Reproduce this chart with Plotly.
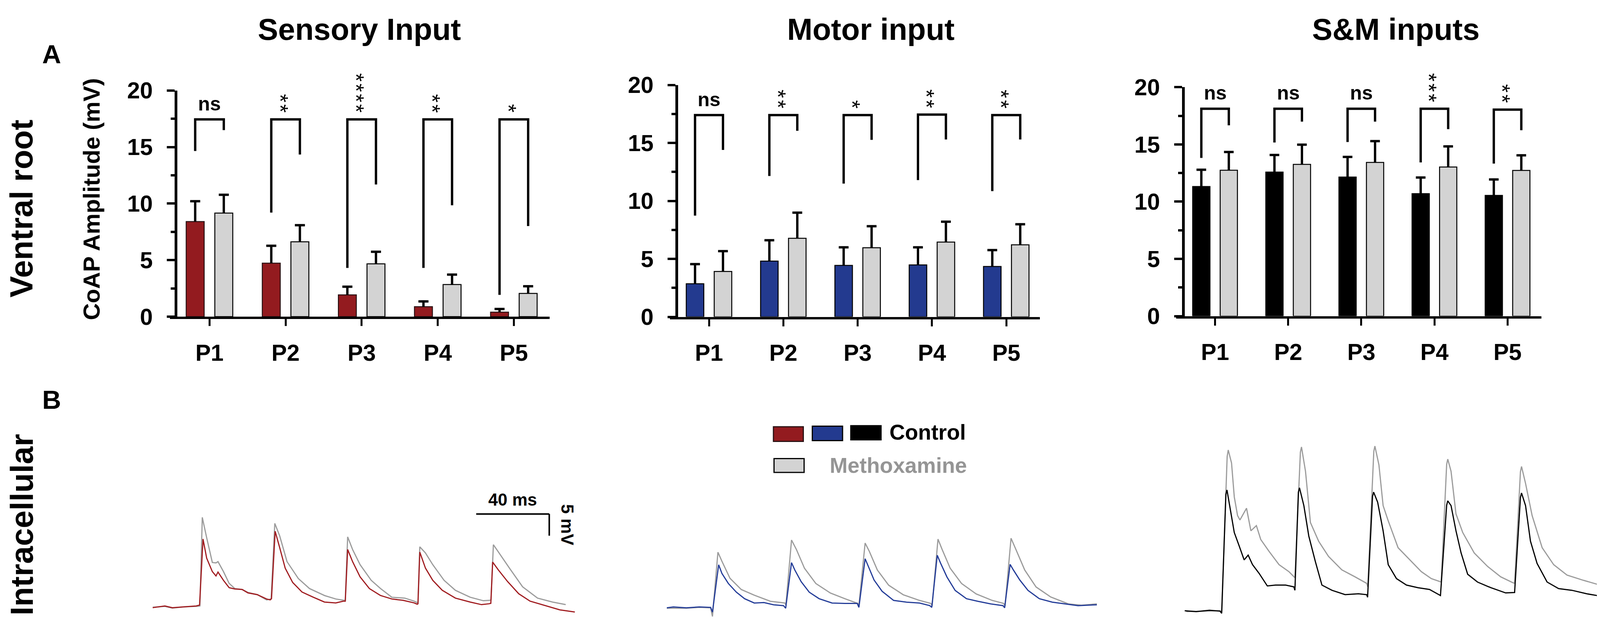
import plotly.graph_objects as go

W, H = 4129, 1611
FONT = "Liberation Sans"

# ---------------- data: ventral-root CoAP amplitudes (mV) ----------------
categories = ["P1", "P2", "P3", "P4", "P5"]

sensory_control = [8.41, 4.73, 1.93, 0.88, 0.40]
sensory_control_sem = [1.80, 1.54, 0.72, 0.47, 0.28]
sensory_methox = [9.16, 6.62, 4.67, 2.84, 2.06]
sensory_methox_sem = [1.62, 1.47, 1.07, 0.88, 0.63]

motor_control = [2.86, 4.81, 4.44, 4.48, 4.35]
motor_control_sem = [1.69, 1.80, 1.56, 1.52, 1.41]
motor_methox = [3.92, 6.78, 5.96, 6.45, 6.22]
motor_methox_sem = [1.75, 2.21, 1.86, 1.76, 1.77]

sm_control = [11.32, 12.58, 12.15, 10.70, 10.55]
sm_control_sem = [1.47, 1.50, 1.76, 1.41, 1.39]
sm_methox = [12.75, 13.26, 13.43, 13.03, 12.73]
sm_methox_sem = [1.59, 1.72, 1.86, 1.80, 1.32]

sensory_sig = ["ns", "**", "****", "**", "*"]
motor_sig = ["ns", "**", "*", "**", "**"]
sm_sig = ["ns", "ns", "ns", "***", "**"]

sensory_bracket_top = [17.45, 17.45, 17.45, 17.45, 17.45]
sensory_bracket_left = [14.65, 9.20, 4.31, 4.31, 1.93]
sensory_bracket_right = [16.50, 14.34, 11.69, 9.85, 8.01]

motor_bracket_top = [17.41, 17.41, 17.41, 17.45, 17.41]
motor_bracket_left = [8.73, 12.15, 11.50, 11.80, 10.85]
motor_bracket_right = [14.40, 16.05, 15.27, 15.30, 15.30]

sm_bracket_top = [18.12, 18.12, 18.12, 18.12, 18.04]
sm_bracket_left = [13.82, 15.17, 15.21, 13.43, 13.33]
sm_bracket_right = [16.67, 16.99, 16.99, 16.34, 16.24]

y_ticks = [0, 5, 10, 15, 20]
y_minor_ticks = [2.5, 7.5, 12.5, 17.5]

# ---------------- data: intracellular traces (time ms, voltage mV) ----------------
sensory_ctrl_t = [0, 6.7, 10.8, 17.1, 23.9, 25.7, 27.6, 29.6, 32.7, 34.7, 35.8, 38.8, 41.9, 45.0, 49.0, 52.2,
                  57.3, 62.4, 64.4, 65.1, 67.1, 69.6, 72.6, 76.7, 81.8, 88.0, 94.1, 100.3, 104.4, 105.5,
                  106.8, 109.5, 113.6, 118.7, 124.8, 131.0, 137.1, 143.2, 144.9, 145.3, 146.3, 149.4, 153.4,
                  158.6, 165.8, 173.9, 180.1, 184.2, 185.2, 186.2, 189.3, 194.4, 200.5, 206.7, 214.9, 223.0, 231.2]
sensory_ctrl_v = [-0.1, 0.3, -0.1, 0.1, 0.3, 0.5, 15.7, 11.3, 8.2, 7.2, 8.1, 6.2, 4.5, 4.2, 4.1, 3.3,
                  2.9, 1.9, 1.7, 2.0, 17.5, 13.7, 9.0, 5.7, 3.5, 2.3, 1.2, 1.0, 1.4, 1.4,
                  13.3, 10.5, 7.0, 4.3, 2.7, 1.9, 1.6, 1.0, 0.7, 0.8, 12.7, 9.0, 6.2,
                  3.9, 2.1, 1.2, 0.6, 0.8, 0.9, 10.4, 8.6, 5.9, 3.1, 1.4, 0.4, -0.6, -1.1]
sensory_meth_t = [0, 6.7, 10.8, 17.1, 23.9, 25.9, 27.2, 29.6, 32.7, 34.7, 35.8, 38.8, 41.9, 45.0, 49.0, 52.2,
                  57.3, 62.4, 64.9, 66.9, 69.6, 73.6, 79.8, 85.9, 94.1, 100.3, 104.8, 105.5, 106.8, 109.5,
                  113.6, 119.7, 124.8, 131.0, 138.1, 143.2, 145.3, 146.3, 149.4, 153.4, 159.6, 165.8, 173.9,
                  181.1, 184.7, 185.3, 186.6, 190.3, 195.4, 202.6, 210.8, 219.0, 226.2]
sensory_meth_v = [0.0, 0.2, -0.2, 0.1, 0.2, 0.3, 20.7, 16.0, 10.3, 10.2, 10.5, 8.2, 5.5, 4.3, 4.1, 3.4,
                  2.9, 1.7, 1.9, 19.3, 16.4, 10.5, 6.6, 4.3, 2.7, 1.9, 1.6, 1.6, 16.2, 13.3,
                  9.8, 6.2, 4.3, 2.3, 2.1, 1.4, 1.0, 13.9, 12.5, 9.8, 6.2, 3.9, 2.3,
                  1.5, 1.6, 1.7, 14.4, 12.1, 9.0, 4.7, 2.1, 1.2, 0.6]

motor_ctrl_t = [0, 3.6, 10.7, 17.8, 24.0, 25.0, 28.4, 30.2, 33.7, 38.1, 42.6, 47.9, 53.2, 58.5, 63.9, 65.1,
                68.3, 70.1, 73.6, 78.0, 83.4, 90.5, 97.5, 104.3, 105.2, 108.6, 110.4, 113.5, 117.9, 124.2,
                131.3, 138.4, 144.0, 145.1, 148.1, 149.9, 153.4, 157.9, 164.1, 170.3, 177.4, 184.1, 185.0,
                188.0, 189.8, 193.3, 197.8, 204.0, 211.1, 218.2, 225.2, 235.5]
motor_ctrl_v = [0, 0.2, 0, 0.2, 0.1, -1.0, 9.9, 7.9, 5.6, 3.6, 2.1, 1.1, 1.2, 0.7, 0.5, -0.1,
                10.4, 8.7, 6.0, 3.6, 2.1, 1.1, 1.0, 1.0, 0.1, 11.3, 9.5, 6.4, 3.8, 1.7,
                1.3, 1.1, 0.5, 0.1, 12.1, 10.3, 7.1, 4.0, 2.1, 1.5, 0.9, 0.5, 0.0,
                10.0, 8.7, 6.4, 4.0, 2.1, 1.3, 0.9, 0.5, 0.7]
motor_meth_t = [0, 10.7, 17.8, 24.0, 25.0, 28.0, 30.2, 34.6, 40.8, 47.9, 56.7, 64.7, 65.2, 68.3, 71.0,
                75.4, 81.6, 89.6, 97.5, 104.6, 105.2, 108.6, 110.9, 115.3, 121.5, 129.5, 138.4, 144.6,
                145.3, 148.5, 150.8, 155.2, 161.4, 169.4, 178.2, 184.5, 185.2, 188.5, 191.2, 196.0,
                202.2, 210.2, 219.9, 227.0, 235.5]
motor_meth_v = [-0.1, -0.1, 0.1, 0.0, -2.0, 12.8, 10.7, 6.8, 4.2, 2.9, 1.5, 1.1, 0.6, 15.6, 13.4,
                9.1, 5.6, 3.4, 2.1, 1.0, 0.6, 14.9, 13.0, 8.7, 5.2, 3.0, 1.7, 1.0,
                0.5, 15.8, 13.4, 9.1, 5.6, 3.2, 1.7, 1.0, 0.4, 16.0, 13.4, 8.7,
                4.8, 2.5, 0.9, 0.6, 0.9]

sm_ctrl_t = [0, 6.3, 13.6, 19.4, 20.3, 22.6, 23.2, 25.4, 27.2, 29.9, 32.6, 34.8, 37.2, 40.8, 45.3, 49.8,
             55.3, 59.8, 60.4, 62.3, 62.9, 65.3, 68.0, 71.6, 75.2, 80.7, 87.9, 95.2, 99.7, 100.2,
             102.9, 103.5, 105.7, 108.7, 111.5, 116.0, 121.5, 127.8, 134.1, 140.1, 143.5, 144.1, 145.9,
             148.6, 151.4, 155.0, 160.4, 167.7, 175.8, 180.7, 183.9, 184.5, 186.7, 189.4, 193.0, 198.5,
             204.8, 212.1, 220.2, 228.4, 232.9]
sm_ctrl_v = [0, -0.2, 0.1, -0.1, -0.6, 26.8, 27.8, 22.3, 18.0, 14.9, 11.7, 12.8, 10.6, 8.6, 5.7, 5.9,
             5.9, 5.5, 4.7, 27.3, 28.3, 24.2, 17.2, 11.3, 5.9, 4.7, 3.7, 3.9, 3.7, 3.1,
             26.3, 27.3, 25.0, 18.4, 10.6, 7.4, 5.9, 5.3, 4.9, 3.5, 24.3, 25.3, 24.2,
             18.4, 13.3, 8.4, 6.6, 5.3, 4.1, 4.2, 26.1, 27.1, 24.2, 16.0, 10.9, 6.6,
             5.1, 4.7, 3.9, 3.3, 3.5]
sm_meth_t = [0.9, 19.4, 20.3, 23.3, 23.9, 25.7, 27.2, 29.0, 30.3, 33.9, 36.3, 39.3, 41.7, 46.2, 51.7, 57.1,
             60.4, 63.4, 64.0, 66.2, 68.9, 73.4, 78.8, 86.1, 93.3, 99.7, 100.3, 103.6, 104.2, 106.4,
             108.7, 111.5, 116.9, 123.3, 129.6, 135.1, 140.5, 143.5, 144.1, 145.9, 148.6, 152.3, 158.6,
             165.9, 173.1, 179.5, 180.7, 183.9, 184.5, 186.7, 190.3, 195.8, 202.1, 209.4, 218.4, 227.5, 233.8]
sm_meth_v = [-0.2, 0.0, -0.4, 35.5, 37.0, 34.0, 26.2, 21.9, 20.9, 23.6, 18.4, 19.6, 16.4, 13.7, 10.6, 9.0,
             7.6, 36.5, 37.7, 32.1, 20.3, 16.0, 12.5, 9.4, 7.8, 6.3, 5.5, 36.7, 37.9, 33.6,
             24.2, 20.7, 14.5, 11.7, 9.0, 7.4, 6.6, 33.7, 34.9, 32.1, 22.3, 18.0, 13.3,
             10.2, 7.8, 6.5, 6.3, 32.0, 33.2, 29.3, 21.9, 14.5, 10.6, 8.2, 7.0, 5.9, 5.3]

scale_bar_ms = 40
scale_bar_mv = 5

# ---------------- styling / layout constants ----------------
RED = "#931b1f"
BLUE = "#233a8f"
BLACK = "#000000"
LIGHT = "#d3d3d3"
TRACE_GRAY = "#9b9b9b"
TRACE_RED = "#a01c20"
TRACE_BLUE = "#233c98"


def fx(px):
    return px / W


def fy(py):
    return 1 - py / H


BAR_OFFSET = 0.188
BAR_WIDTH = 0.236
CAP_HALF = 0.066
STAR_SIZE = 56
STAR_STEP = 26.4   # px between stacked asterisks

bar_panels = [
    dict(title="Sensory Input", ctrl=sensory_control, ctrl_sem=sensory_control_sem,
         meth=sensory_methox, meth_sem=sensory_methox_sem, color=RED, outline="#2a1214",
         sig=sensory_sig, top=sensory_bracket_top, left=sensory_bracket_left, right=sensory_bracket_right,
         x_px=(427, 1399), x_range=(-0.52, 4.47), yline_px=442, y_px=(200, 804), title_px=912),
    dict(title="Motor input", ctrl=motor_control, ctrl_sem=motor_control_sem,
         meth=motor_methox, meth_sem=motor_methox_sem, color=BLUE, outline="#000000",
         sig=motor_sig, top=motor_bracket_top, left=motor_bracket_left, right=motor_bracket_right,
         x_px=(1707, 2654), x_range=(-0.526, 4.452), yline_px=1724, y_px=(185.4, 804.5), title_px=2221),
    dict(title="S&M inputs", ctrl=sm_control, ctrl_sem=sm_control_sem,
         meth=sm_methox, meth_sem=sm_methox_sem, color=BLACK, outline="#000000",
         sig=sm_sig, top=sm_bracket_top, left=sm_bracket_left, right=sm_bracket_right,
         x_px=(3003, 3938), x_range=(-0.532, 4.463), yline_px=3020.5, y_px=(191.2, 802.5), title_px=3565),
]

fig = go.Figure()
annotations = []
shapes = []
layout_axes = {}

xs = list(range(len(categories)))

for k, p in enumerate(bar_panels, start=1):
    xa, ya = f"x{k}", f"y{k}"
    fig.add_trace(go.Bar(x=xs, y=p["ctrl"], width=BAR_WIDTH, offset=-BAR_OFFSET - BAR_WIDTH / 2,
                         marker=dict(color=p["color"], line=dict(color=p["outline"], width=2.5)),
                         xaxis=xa, yaxis=ya, showlegend=False, hoverinfo="skip"))
    fig.add_trace(go.Bar(x=xs, y=p["meth"], width=BAR_WIDTH, offset=BAR_OFFSET - BAR_WIDTH / 2,
                         marker=dict(color=LIGHT, line=dict(color="black", width=2.5)),
                         xaxis=xa, yaxis=ya, showlegend=False, hoverinfo="skip"))
    # error bars (upper only)
    ex, ey = [], []
    for sign, vals, sems in ((-1, p["ctrl"], p["ctrl_sem"]), (1, p["meth"], p["meth_sem"])):
        for i, (m, s) in enumerate(zip(vals, sems)):
            cx = xs[i] + sign * BAR_OFFSET
            ex += [cx, cx, None, cx - CAP_HALF, cx + CAP_HALF, None]
            ey += [m, m + s, None, m + s, m + s, None]
    fig.add_trace(go.Scatter(x=ex, y=ey, mode="lines", line=dict(color="black", width=6),
                             xaxis=xa, yaxis=ya, showlegend=False, hoverinfo="skip", cliponaxis=False))
    # significance brackets
    bx, by = [], []
    for i in xs:
        bx += [i - BAR_OFFSET, i - BAR_OFFSET, i + BAR_OFFSET, i + BAR_OFFSET, None]
        by += [p["left"][i], p["top"][i], p["top"][i], p["right"][i], None]
    fig.add_trace(go.Scatter(x=bx, y=by, mode="lines", line=dict(color="black", width=6),
                             xaxis=xa, yaxis=ya, showlegend=False, hoverinfo="skip", cliponaxis=False))
    for i, lab in enumerate(p["sig"]):
        if lab == "ns":
            annotations.append(dict(x=xs[i], y=p["top"][i], xref=xa, yref=ya, text="ns", showarrow=False,
                                    yshift=40, xanchor="center", yanchor="middle",
                                    font=dict(family=FONT, size=50, color="black", weight="bold")))
        else:
            # vertical stack of asterisks (rotated text with hair spaces), as in the original figure
            n = len(lab)
            annotations.append(dict(x=xs[i], y=p["top"][i], xref=xa, yref=ya,
                                    text="\u200a".join(lab), showarrow=False,
                                    textangle=90, xshift=-13, yshift=28 + STAR_STEP * (n - 1) / 2,
                                    xanchor="center", yanchor="middle",
                                    font=dict(family=FONT, size=STAR_SIZE, color="black")))
    annotations.append(dict(x=fx(p["title_px"]), y=fy(37), xref="paper", yref="paper", text=p["title"],
                            showarrow=False, xanchor="center", yanchor="middle",
                            font=dict(family=FONT, size=78, color="black", weight="bold")))

    tickfont = dict(family=FONT, size=59, color="black", weight="bold")
    layout_axes[f"xaxis{k}"] = dict(
        domain=[fx(p["x_px"][0]), fx(p["x_px"][1])], range=list(p["x_range"]), anchor=ya,
        showline=True, linewidth=6, linecolor="black", ticks="outside", ticklen=18, tickwidth=5,
        tickcolor="black", tickvals=xs, ticktext=categories, tickfont=tickfont, ticklabelstandoff=18,
        showgrid=False, zeroline=False, fixedrange=True)
    layout_axes[f"yaxis{k}"] = dict(
        domain=[fy(p["y_px"][1]), fy(p["y_px"][0])], range=[0, 20], anchor="free",
        position=fx(p["yline_px"]), showline=True, linewidth=7, linecolor="black",
        ticks="outside", ticklen=20, tickwidth=6, tickcolor="black", tickvals=y_ticks,
        tickfont=tickfont, ticklabelstandoff=24, showgrid=False, zeroline=False, fixedrange=True,
        minor=dict(tickvals=y_minor_ticks, ticks="outside", ticklen=10, tickwidth=6, tickcolor="black"))

# ---------------- intracellular traces ----------------
PX_PER_MS = 4.675
PX_PER_MV = 11.6
T_SPAN = 236
TOP_PX = 1080

trace_panels = [
    dict(ct=sensory_ctrl_t, cv=sensory_ctrl_v, mt=sensory_meth_t, mv=sensory_meth_v, color=TRACE_RED,
         x0_px=382.7, y0_px=1580),
    dict(ct=motor_ctrl_t, cv=motor_ctrl_v, mt=motor_meth_t, mv=motor_meth_v, color=TRACE_BLUE,
         x0_px=1699, y0_px=1581.5),
    dict(ct=sm_ctrl_t, cv=sm_ctrl_v, mt=sm_meth_t, mv=sm_meth_v, color=BLACK,
         x0_px=3024.6, y0_px=1589.3),
]

for k, p in enumerate(trace_panels, start=4):
    xa, ya = f"x{k}", f"y{k}"
    fig.add_trace(go.Scatter(x=p["mt"], y=p["mv"], mode="lines", line=dict(color=TRACE_GRAY, width=3),
                             xaxis=xa, yaxis=ya, showlegend=False, hoverinfo="skip", cliponaxis=False))
    fig.add_trace(go.Scatter(x=p["ct"], y=p["cv"], mode="lines", line=dict(color=p["color"], width=3),
                             xaxis=xa, yaxis=ya, showlegend=False, hoverinfo="skip", cliponaxis=False))
    x0, y0 = p["x0_px"], p["y0_px"]
    layout_axes[f"xaxis{k}"] = dict(domain=[fx(x0), fx(x0 + PX_PER_MS * T_SPAN)], range=[0, T_SPAN],
                                    anchor=ya, visible=False, fixedrange=True)
    layout_axes[f"yaxis{k}"] = dict(domain=[0, fy(TOP_PX)],
                                    range=[(y0 - H) / PX_PER_MV, (y0 - TOP_PX) / PX_PER_MV],
                                    anchor=xa, visible=False, fixedrange=True)

# scale bar (in the sensory trace axes)
sb_t0, sb_v0 = 177.2, 21.47
shapes.append(dict(type="line", xref="x4", yref="y4", x0=sb_t0, x1=sb_t0 + scale_bar_ms, y0=sb_v0, y1=sb_v0,
                   line=dict(color="black", width=4)))
shapes.append(dict(type="line", xref="x4", yref="y4", x0=sb_t0 + scale_bar_ms, x1=sb_t0 + scale_bar_ms,
                   y0=sb_v0, y1=sb_v0 - scale_bar_mv, line=dict(color="black", width=4)))
annotations.append(dict(x=sb_t0 + scale_bar_ms / 2, y=sb_v0 + 3.3, xref="x4", yref="y4",
                        text=f"{scale_bar_ms} ms", showarrow=False, xanchor="center", yanchor="middle",
                        font=dict(family=FONT, size=44, color="black", weight="bold")))
annotations.append(dict(x=sb_t0 + scale_bar_ms + 10, y=sb_v0 - scale_bar_mv / 2, xref="x4", yref="y4",
                        text=f"{scale_bar_mv} mV", showarrow=False, textangle=90, xanchor="center",
                        yanchor="middle", font=dict(family=FONT, size=44, color="black", weight="bold")))

# legend (drawn)
legend_boxes = [
    ((1972, 2048.5, 1098, 1137), RED, "#2a1214"),
    ((2071.5, 2149, 1096.5, 1135), BLUE, "#000000"),
    ((2170, 2247.5, 1095, 1133), BLACK, "#000000"),
    ((1973.5, 2050.5, 1183, 1220), LIGHT, "#000000"),
]
for (x0, x1, y0, y1), fill, edge in legend_boxes:
    shapes.append(dict(type="rect", xref="paper", yref="paper", x0=fx(x0), x1=fx(x1), y0=fy(y1), y1=fy(y0),
                       fillcolor=fill, line=dict(color=edge, width=3)))
annotations.append(dict(x=fx(2467), y=fy(1113), xref="paper", yref="paper", text="Control", showarrow=False,
                        xanchor="right", yanchor="middle",
                        font=dict(family=FONT, size=55, color="black", weight="bold")))
annotations.append(dict(x=fx(2469), y=fy(1201), xref="paper", yref="paper", text="Methoxamine",
                        showarrow=False, xanchor="right", yanchor="middle",
                        font=dict(family=FONT, size=55, color="#959595", weight="bold")))

# panel labels / row labels
for text, x, y, size, angle in (("A", 124, 103, 67, 0), ("B", 124, 1026, 67, 0),
                                ("Ventral root", 47, 515, 82, -90), ("Intracellular", 47, 1360, 82, -90),
                                ("CoAP Amplitude (mV)", 227, 490, 60, -90)):
    annotations.append(dict(x=fx(x), y=fy(y), xref="paper", yref="paper", text=text, showarrow=False,
                            textangle=angle, xanchor="center", yanchor="middle",
                            font=dict(family=FONT, size=size, color="black", weight="bold")))

fig.update_layout(width=W, height=H, margin=dict(l=0, r=0, t=0, b=0), barmode="overlay",
                  paper_bgcolor="white", plot_bgcolor="white", showlegend=False,
                  annotations=annotations, shapes=shapes, **layout_axes)

fig.write_html("out.html")
